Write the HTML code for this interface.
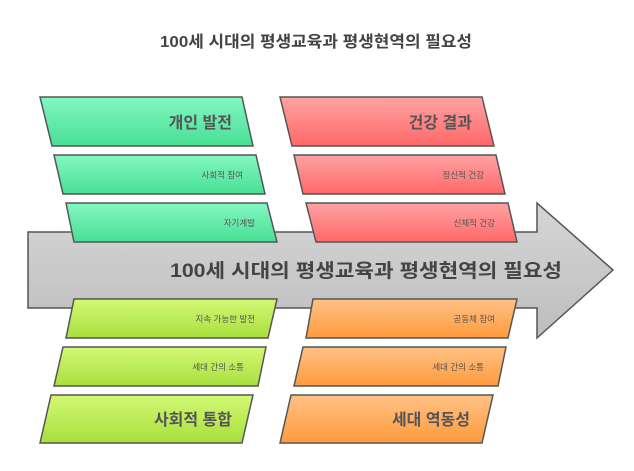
<!DOCTYPE html>
<html><head><meta charset="utf-8"><style>
html,body{margin:0;padding:0;background:#fff;}
svg{display:block;font-family:"Liberation Sans","Noto Sans CJK KR",sans-serif;}
</style></head><body>
<svg width="634" height="471" viewBox="0 0 634 471" xmlns="http://www.w3.org/2000/svg">
<defs>
<linearGradient id="ga" x1="0" y1="0" x2="0" y2="1"><stop offset="0" stop-color="#d6d6d6"/><stop offset="1" stop-color="#bdbdbd"/></linearGradient>
<linearGradient id="gg" x1="0" y1="0" x2="0" y2="1"><stop offset="0" stop-color="#84f7c2"/><stop offset="1" stop-color="#48df94"/></linearGradient>
<linearGradient id="gr" x1="0" y1="0" x2="0" y2="1"><stop offset="0" stop-color="#ffa3a3"/><stop offset="1" stop-color="#ff6868"/></linearGradient>
<linearGradient id="gl" x1="0" y1="0" x2="0" y2="1"><stop offset="0" stop-color="#d3f874"/><stop offset="1" stop-color="#a9df3e"/></linearGradient>
<linearGradient id="go" x1="0" y1="0" x2="0" y2="1"><stop offset="0" stop-color="#ffc285"/><stop offset="1" stop-color="#ff9a3e"/></linearGradient>
</defs>
<text x="160" y="47" textLength="312" lengthAdjust="spacingAndGlyphs" font-size="16" font-weight="bold" fill="#444">100세 시대의 평생교육과 평생현역의 필요성</text>
<polygon points="28,232 537,232 537,203 613,270 537,338 537,308 28,308" fill="url(#ga)" stroke="#555" stroke-width="1.5"/>
<g stroke="#555" stroke-width="1.5">
<polygon points="40,97 242,97 253,146 52,146" fill="url(#gg)"/>
<polygon points="54,155 256,155 265,194 63,194" fill="url(#gg)"/>
<polygon points="66,203 267,203 277,242 74,242" fill="url(#gg)"/>
<polygon points="280,97 482,97 494,146 292,146" fill="url(#gr)"/>
<polygon points="294,155 496,155 505,194 303,194" fill="url(#gr)"/>
<polygon points="306,203 508,203 517,242 316,242" fill="url(#gr)"/>
<polygon points="74,299 277,299 268,338 66,338" fill="url(#gl)"/>
<polygon points="63,347 266,347 258,386 54,386" fill="url(#gl)"/>
<polygon points="51,395 253,395 242,443 40,443" fill="url(#gl)"/>
<polygon points="313,299 517,299 508,338 306,338" fill="url(#go)"/>
<polygon points="303,347 506,347 498,386 294,386" fill="url(#go)"/>
<polygon points="291,395 493,395 482,443 280,443" fill="url(#go)"/>
</g>
<g fill="#555" text-anchor="end">
<text x="232" y="128" font-size="16" font-weight="bold">개인 발전</text>
<text x="243" y="178" font-size="8.5">사회적 참여</text>
<text x="255" y="226" font-size="8.5">자기계발</text>
<text x="472" y="128" font-size="16" font-weight="bold">건강 결과</text>
<text x="484" y="178" font-size="8.5">정신적 건강</text>
<text x="495" y="226" font-size="8.5">신체적 건강</text>
<text x="255" y="322" font-size="8.5">지속 가능한 발전</text>
<text x="244" y="370" font-size="8.5">세대 간의 소통</text>
<text x="232" y="425" font-size="16" font-weight="bold">사회적 통합</text>
<text x="495" y="322" font-size="8.5">공동체 참여</text>
<text x="484" y="370" font-size="8.5">세대 간의 소통</text>
<text x="470" y="425" font-size="16" font-weight="bold">세대 역동성</text>
</g>
<text x="170" y="277" textLength="392" lengthAdjust="spacingAndGlyphs" font-size="19" font-weight="bold" fill="#444">100세 시대의 평생교육과 평생현역의 필요성</text>
</svg>
</body></html>
